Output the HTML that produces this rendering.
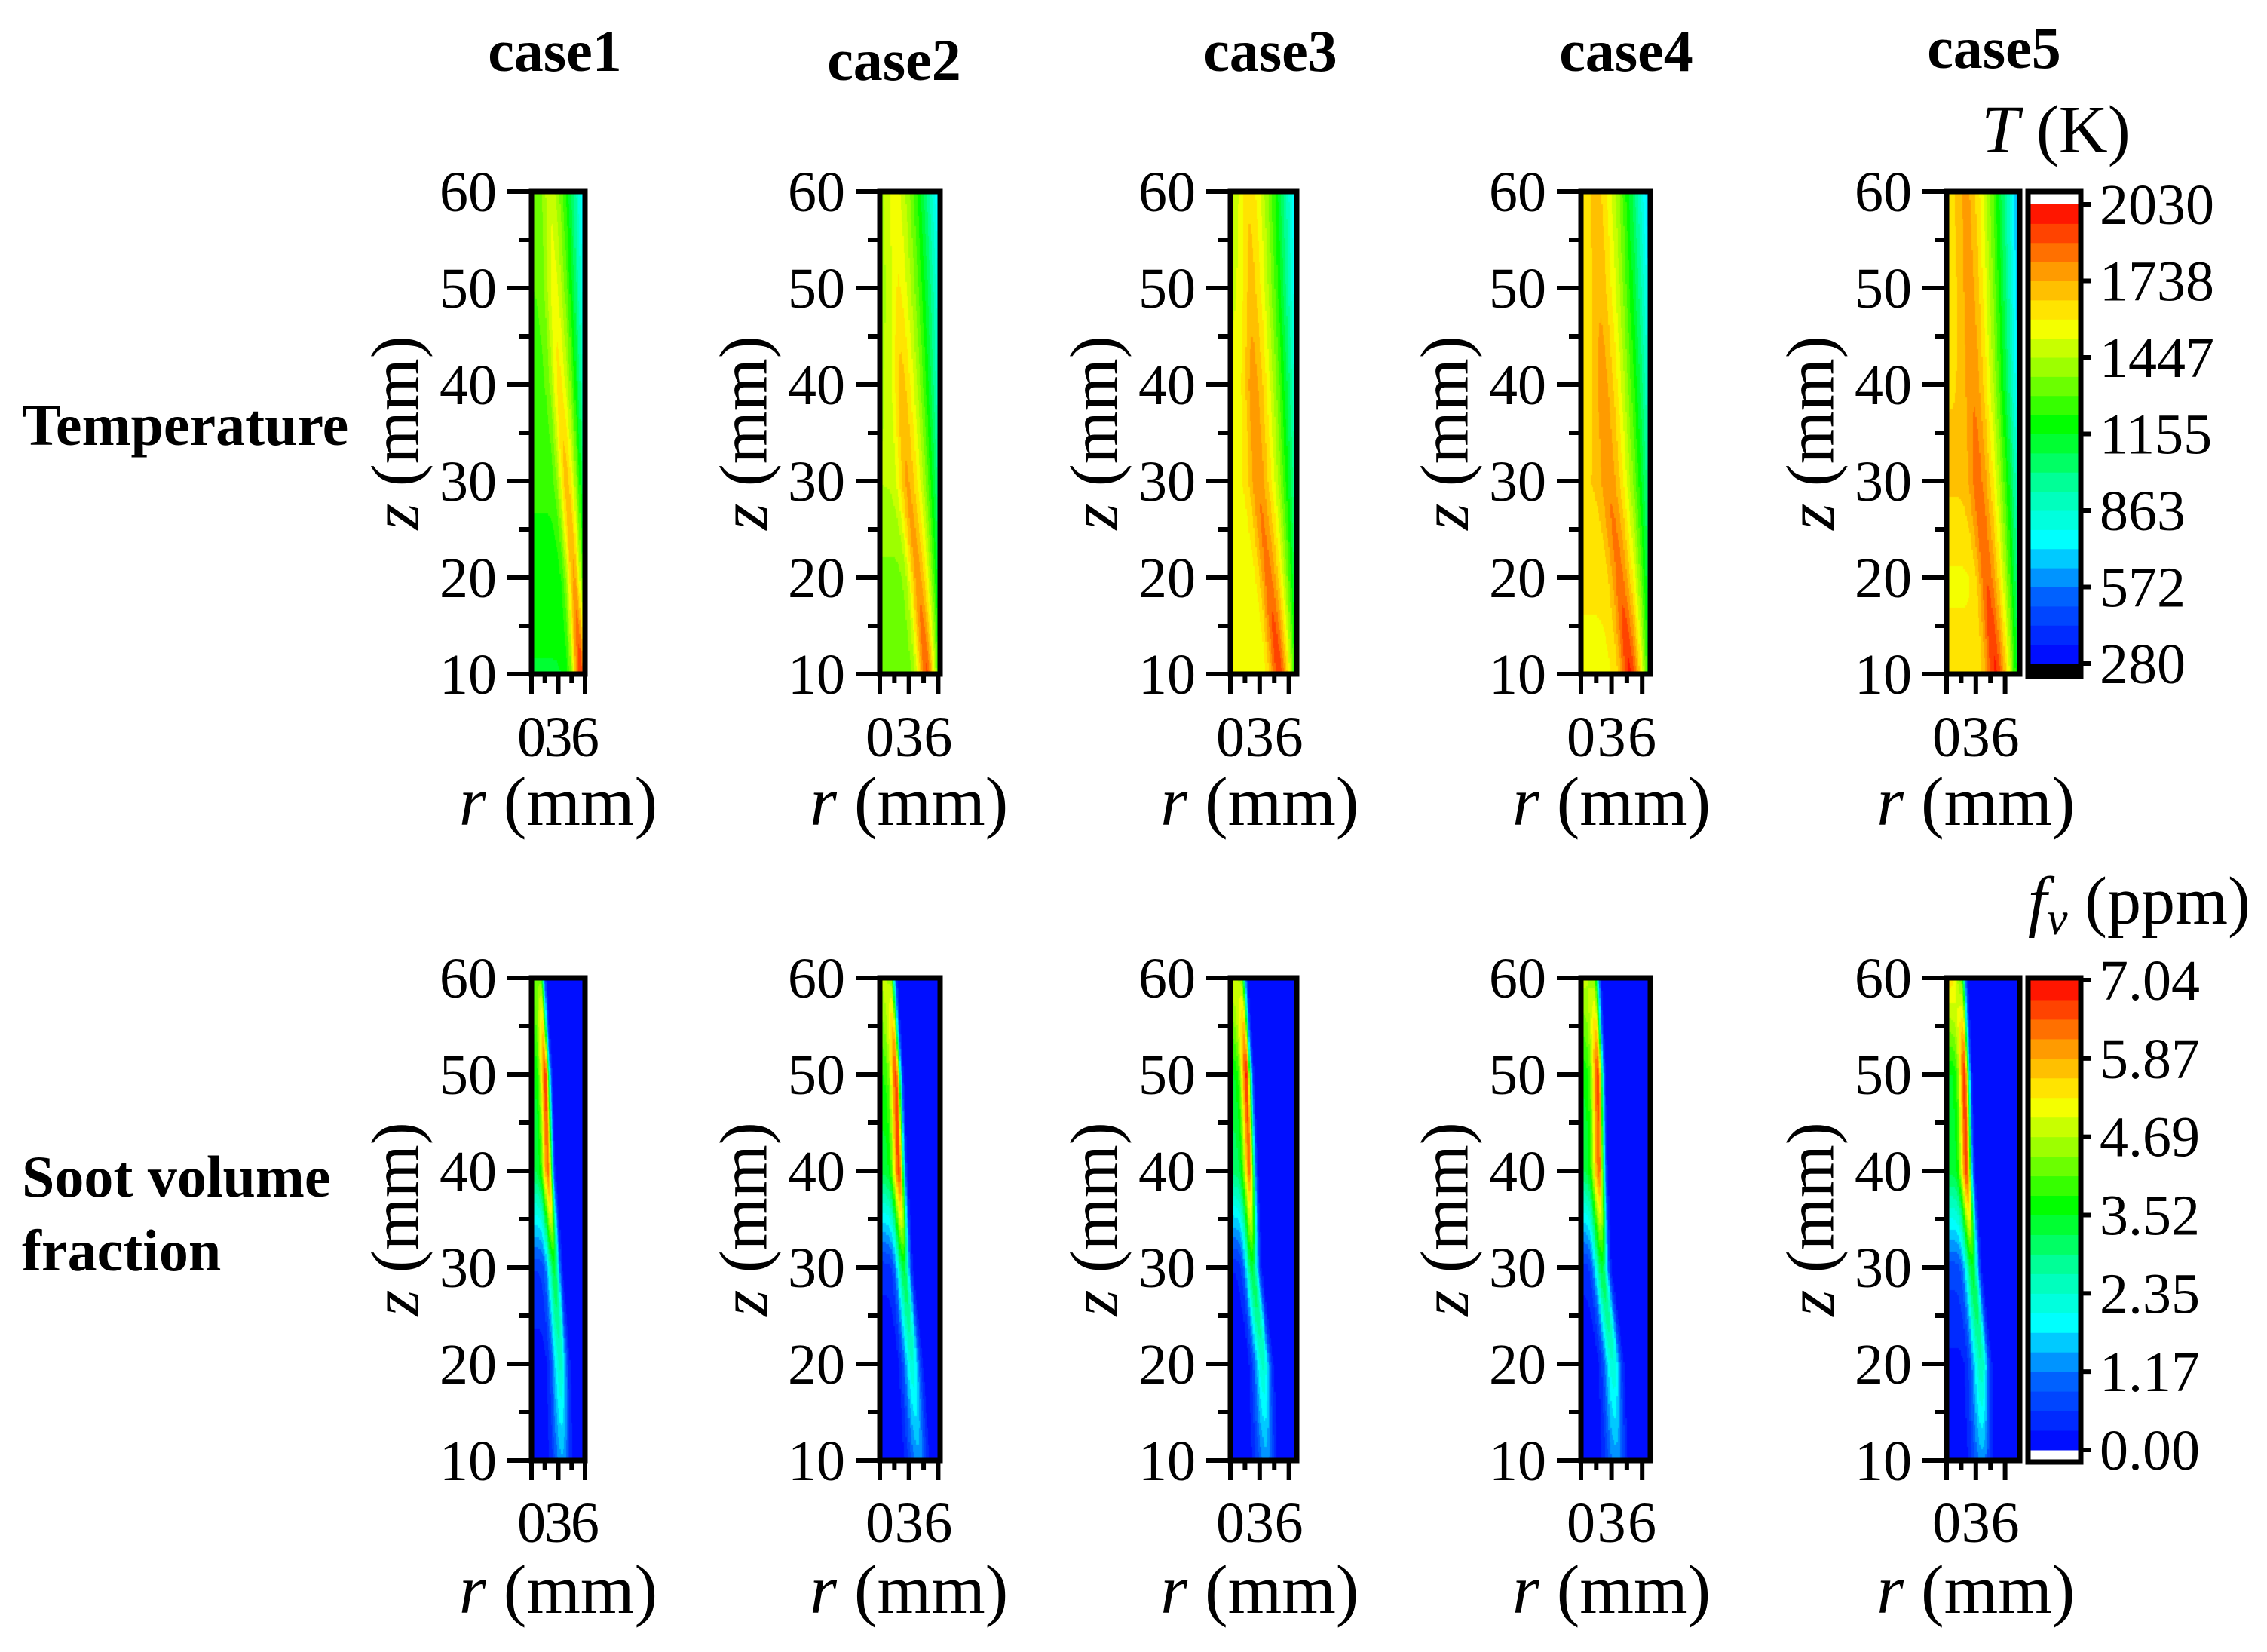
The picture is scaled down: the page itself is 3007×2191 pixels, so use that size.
<!DOCTYPE html>
<html><head><meta charset="utf-8"><style>
html,body{margin:0;padding:0;background:#fff;}
#wrap{position:relative;width:3007px;height:2191px;overflow:hidden;background:#fff;}
#cv{position:absolute;left:0;top:0;}
#sv{position:absolute;left:0;top:0;}
text{font-family:"Liberation Serif",serif;fill:#000;}
</style></head><body>
<div id="wrap">
<canvas id="cv" width="3007" height="2191"></canvas>
<svg id="sv" width="3007" height="2191" viewBox="0 0 3007 2191" xmlns="http://www.w3.org/2000/svg"></svg>
</div>
<script>
// ---------- data ----------
const caseNames = ["case1","case2","case3","case4","case5"];
const zLevels = [10,20,30,40,50,60];
const rMax = [6,6.2,6.8,6.8,7.5];
const yTicks = [10,20,30,40,50,60];
const xTicks = [0,3,6];
const tempTickLabels = ["2030","1738","1447","1155","863","572","280"];
const sootTickLabels = ["7.04","5.87","4.69","3.52","2.35","1.17","0.00"];
const tempRange = [280,2030];
const sootRange = [0,7.04];
const tempRidgeR = [[5.6,4.9,4.0,3.2,2.6,2.2],[4.9,4.0,2.9,2.3,2.0,1.7],[5.1,4.0,2.9,2.4,2.2,2.0],[4.9,3.9,2.8,2.2,1.9,1.6],[5.1,4.2,3.3,2.8,2.4,2.1]];
const tempRidgeT = [[1950,1750,1700,1620,1560,1500],[1900,1780,1750,1700,1600,1550],[1950,1850,1800,1780,1700,1650],[1980,1850,1800,1780,1720,1700],[1980,1880,1850,1800,1780,1760]];
const tempAxisT = [[1150,1180,1250,1280,1300,1300],[1330,1350,1450,1440,1420,1420],[1530,1550,1580,1540,1500,1470],[1580,1600,1660,1620,1600,1580],[1620,1580,1680,1660,1640,1640]];
const tempOuterT = [[1700,1100,950,800,700,650],[1100,1000,900,800,750,650],[1100,1000,900,800,700,650],[1100,1000,900,800,700,600],[1000,900,800,650,600,550]];
const sootRidgeR = [[3.5,3.3,2.6,1.9,1.6,1.0],[4.0,3.4,2.5,2.0,1.7,1.1],[3.7,3.4,2.3,2.0,1.7,1.1],[3.5,3.2,2.1,1.8,1.7,1.3],[3.7,3.6,2.7,2.1,1.9,1.5]];
const sootPeak = [[1.4,2.4,3.3,6.3,6.6,4.3],[1.3,2.3,3.3,6.6,6.6,4.6],[1.3,2.4,3.3,6.2,6.8,4.6],[1.3,2.3,3.3,6.3,6.6,4.5],[1.3,2.6,3.4,6.6,6.8,4.3]];
const sootInner = [[0,0.1,0.6,3.2,3.5,4.0],[0,0,0.4,3.3,3.8,4.8],[0,0,0.3,3.0,3.5,5.0],[0,0,0.4,3.2,3.6,4.8],[0,0.2,0.7,3.3,3.5,5.5]];
const sootWidth = [0.9,0.75,0.6,0.5,0.45,0.45];

// ---------- layout ----------
const plotLeft = [705,1167,1632,2097,2582];
const plotRight = [776,1247,1720,2189,2679];
const titleX = [736,1186,1685,2157,2645];
const titleY = [94,106,94,94,90];
const rowTop = [254,1297];
const rowBot = [894,1937];
const NS = "http://www.w3.org/2000/svg";
const svg = document.getElementById('sv');
const ctx = document.getElementById('cv').getContext('2d');

function el(tag, attrs, parent){ const e=document.createElementNS(NS,tag); for(const k in attrs) e.setAttribute(k,attrs[k]); (parent||svg).appendChild(e); return e; }
function xScale(c,r){ return plotLeft[c] + (plotRight[c]-plotLeft[c])*r/rMax[c]; }
function yScale(row,z){ return rowBot[row] - (rowBot[row]-rowTop[row])*(z-10)/50; }
function interp(arr,z){ if(z<=zLevels[0]) return arr[0]; for(let i=1;i<zLevels.length;i++){ if(z<=zLevels[i]){ const t=(z-zLevels[i-1])/(zLevels[i]-zLevels[i-1]); return arr[i-1]+(arr[i]-arr[i-1])*t; } } return arr[arr.length-1]; }
const stops = [[0,[0,0,255]],[0.15,[0,100,255]],[0.27,[0,255,255]],[0.38,[0,255,170]],[0.52,[0,255,0]],[0.63,[140,255,0]],[0.74,[255,255,0]],[0.86,[255,150,0]],[1,[255,0,0]]];
function cmap(t){ t=Math.max(0,Math.min(1,t)); for(let i=1;i<stops.length;i++){ if(t<=stops[i][0]){ const a=stops[i-1],b=stops[i]; const f=(t-a[0])/(b[0]-a[0]); return 'rgb('+a[1].map((v,j)=>Math.round(v+(b[1][j]-v)*f)).join(',')+')'; } } return 'rgb(255,0,0)'; }
const NLEV = 24;
function qcol(v,range){ let t=(v-range[0])/(range[1]-range[0]); let i=Math.floor(t*NLEV); i=Math.max(0,Math.min(NLEV-1,i)); return cmap((i+0.5)/NLEV); }

function tempAt(c,r,z){
  const rr=interp(tempRidgeR[c],z), pk=interp(tempRidgeT[c],z), ax=interp(tempAxisT[c],z), out=interp(tempOuterT[c],z);
  if(r<=rr) return ax+(pk-ax)*Math.exp(-Math.pow((r-rr)/1.0,2));
  const s=(r-rr)/(rMax[c]-rr); return out+(pk-out)*(1-Math.pow(Math.min(1,s),1.4));
}
function sootAt(c,r,z){
  const rr=interp(sootRidgeR[c],z), pk=interp(sootPeak[c],z), inn=interp(sootInner[c],z), w=interp(sootWidth,z);
  if(r<=rr) return inn+(pk-inn)*Math.exp(-Math.pow((r-rr)/(w*1.3),2));
  return pk*Math.exp(-Math.pow((r-rr)/w,2));
}

// ---------- text helpers ----------
function txt(x,y,s,size,opts,name){ const t=el('text',Object.assign({x:x,y:y,'font-size':size},opts||{})); t.textContent=s;   return t; }

// row labels
txt(29,590,"Temperature",78,{'font-weight':'bold'},'row-label-temperature');
txt(29,1587,"Soot volume",78,{'font-weight':'bold'},'row-label-soot-1');
txt(29,1685,"fraction",78,{'font-weight':'bold'},'row-label-soot-2');

for(let c=0;c<5;c++){
  txt(titleX[c],titleY[c],caseNames[c],78,{'font-weight':'bold','text-anchor':'middle'},'title-'+caseNames[c]);
  for(let row=0;row<2;row++){
    const fn = row===0?tempAt:sootAt, range=row===0?tempRange:sootRange;
    const nr=60, nz=200;
    for(let i=0;i<nr;i++){
      const r0=rMax[c]*i/nr, r1=rMax[c]*(i+1)/nr;
      for(let j=0;j<nz;j++){
        const z0=10+50*j/nz, z1=10+50*(j+1)/nz;
        ctx.fillStyle=qcol(fn(c,(r0+r1)/2,(z0+z1)/2),range);
        const x0=xScale(c,r0), x1=xScale(c,r1), y0=yScale(row,z1), y1=yScale(row,z0);
        ctx.fillRect(Math.floor(x0),Math.floor(y0),Math.ceil(x1-x0)+1,Math.ceil(y1-y0)+1);
      }
    }
    const g=el('g',{});
    
    
    const L=plotLeft[c],R=plotRight[c],T=rowTop[row],B=rowBot[row];
    const fr=el('rect',{x:L,y:T,width:R-L,height:B-T,fill:'none',stroke:'#000','stroke-width':7},g);
    
    
    for(let z=10;z<=60;z+=5){
      const y=yScale(row,z), major=(z%10===0);
      const tk=el('line',{x1:L-(major?32:16),x2:L,y1:y,y2:y,stroke:'#000','stroke-width':6},g);
      
      
    }
    yTicks.forEach(v=>{ txt(L-46,yScale(row,v)+26,String(v),76,{'text-anchor':'end'},'y-tick-label'); });
    [0,1.5,3,4.5,6].forEach(v=>{
      const x=xScale(c,v), major=(v%3===0);
      const tk=el('line',{x1:x,x2:x,y1:B,y2:B+(major?26:12),stroke:'#000','stroke-width':6},g);
      
      
    });
    xTicks.forEach(v=>{ txt(xScale(c,v),row===0?1003:2045,String(v),76,{'text-anchor':'middle'},'x-tick-label'); });
    const xm=xScale(c,3);
    const xl=el('text',{x:xm,y:row===0?1094:2139,'font-size':92,'text-anchor':'middle'});
    
    
    xl.innerHTML='<tspan font-style="italic">r</tspan> (mm)';
    const yc=(T+B)/2, yx=L-180;
    const yl=el('text',{x:0,y:0,'font-size':90,'text-anchor':'middle','dominant-baseline':'central',transform:'translate('+yx+','+yc+') rotate(-90)'});
    
    
    yl.innerHTML='<tspan font-style="italic">z</tspan> (mm)';
  }
}

// ---------- colorbars ----------
function colorbar(row){
  const L=2690,R=2760,T=rowTop[row],B=rowBot[row]+(row===0?3:2);
  const labels=row===0?tempTickLabels:sootTickLabels;
  const cTop=row===0?271:1300, cBot=row===0?880:1923;
  const g=el('g',{});
  
  
  if(row===0){ const k=el('rect',{x:L,y:cBot,width:R-L,height:B-cBot,fill:'#000'},g);   }
  for(let i=0;i<NLEV;i++){
    const y0=cBot-(cBot-cTop)*(i+1)/NLEV, y1=cBot-(cBot-cTop)*i/NLEV;
    const b=el('rect',{x:L,y:y0-0.5,width:R-L,height:y1-y0+1,fill:cmap((i+0.5)/NLEV)},g);
    
    
  }
  const f=el('rect',{x:L,y:T,width:R-L,height:B-T,fill:'none',stroke:'#000','stroke-width':7},g);
  
  
  labels.forEach((s,i)=>{
    const y=cTop+(cBot-cTop)*i/(labels.length-1);
    const t=el('line',{x1:R,x2:R+14,y1:y,y2:y,stroke:'#000','stroke-width':6},g);
    
    
    txt(2785,y+26,s,76,{},'colorbar-tick-label');
  });
}
colorbar(0); colorbar(1);
const tt=el('text',{x:2727,y:202,'font-size':90,'text-anchor':'middle'});


tt.innerHTML='<tspan font-style="italic">T</tspan> (K)';
const ft=el('text',{x:2690,y:1225,'font-size':90});


ft.innerHTML='<tspan font-style="italic">f</tspan><tspan font-style="italic" font-size="62" dy="14">v</tspan><tspan dy="-14"> (ppm)</tspan>';
</script>
</body></html>
